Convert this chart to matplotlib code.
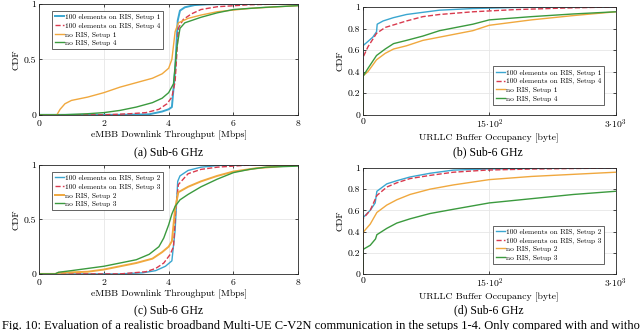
import numpy as np
import matplotlib
matplotlib.use("Agg")
import matplotlib.pyplot as plt

plt.rcParams['font.family'] = ['cmr10', 'DejaVu Serif']
plt.rcParams['mathtext.fontset'] = 'cm'
plt.rcParams['axes.formatter.use_mathtext'] = True

# colours (MATLAB-like)
C_BLUE = '#3aa6d0'
C_RED = '#d93a4e'
C_ORANGE = '#f0a83e'
C_GREEN = '#3b9a3e'

# ---------------- (a) eMBB throughput, setups 1 / 4 ----------------
a_ris1_x = [0, 2.5, 3.4, 3.8, 4.0, 4.1, 4.2, 4.28, 4.35, 4.5, 4.8, 5.2, 6.0, 8.0]
a_ris1_y = [0, 0, 0.005, 0.03, 0.05, 0.07, 0.4, 0.85, 0.94, 0.97, 0.99, 0.997, 1.0, 1.0]
a_ris4_x = [0, 2.0, 2.8, 3.3, 3.7, 3.95, 4.1, 4.2, 4.3, 4.45, 4.7, 5.0, 5.5, 6.5, 7.5, 8.0]
a_ris4_y = [0, 0, 0.01, 0.02, 0.05, 0.1, 0.16, 0.3, 0.78, 0.86, 0.91, 0.95, 0.975, 0.993, 1.0, 1.0]
a_no1_x = [0, 0.55, 0.65, 0.8, 1.0, 1.5, 2.0, 2.5, 3.0, 3.5, 3.8, 4.0, 4.1, 4.2, 4.3, 4.6, 5.0, 5.5, 6.5, 8.0]
a_no1_y = [0, 0, 0.05, 0.1, 0.13, 0.16, 0.2, 0.25, 0.29, 0.33, 0.37, 0.42, 0.5, 0.75, 0.83, 0.87, 0.9, 0.93, 0.96, 0.985]
a_no4_x = [0, 0.7, 1.5, 2.0, 2.5, 3.0, 3.5, 3.8, 4.0, 4.15, 4.25, 4.35, 4.5, 5.0, 5.5, 6.0, 7.0, 8.0]
a_no4_y = [0, 0, 0.01, 0.02, 0.04, 0.07, 0.11, 0.15, 0.2, 0.28, 0.6, 0.78, 0.83, 0.88, 0.92, 0.95, 0.97, 0.985]

# ---------------- (b) URLLC buffer, setups 1 / 4 ----------------
b_ris1_x = [0, 0, 30, 60, 118, 162, 170, 240, 360, 518, 712, 910, 1305, 1800, 2300, 3000]
b_ris1_y = [0, 0.64, 0.66, 0.68, 0.72, 0.77, 0.84, 0.87, 0.9, 0.93, 0.95, 0.97, 0.985, 0.995, 1.0, 1.0]
b_ris4_x = [0, 0, 60, 162, 265, 518, 712, 910, 1305, 1800, 2400, 3000]
b_ris4_y = [0, 0.53, 0.63, 0.755, 0.81, 0.87, 0.91, 0.93, 0.955, 0.975, 0.99, 1.0]
b_no1_x = [0, 0, 60, 162, 265, 364, 518, 712, 910, 1107, 1305, 1500, 2000, 2500, 3000]
b_no1_y = [0, 0.36, 0.4, 0.51, 0.57, 0.61, 0.64, 0.69, 0.72, 0.75, 0.78, 0.83, 0.88, 0.92, 0.955]
b_no4_x = [0, 0, 60, 162, 265, 364, 518, 712, 910, 1107, 1305, 1500, 2000, 2500, 3000]
b_no4_y = [0, 0.354, 0.43, 0.55, 0.61, 0.66, 0.69, 0.73, 0.78, 0.81, 0.84, 0.88, 0.91, 0.935, 0.955]

# ---------------- (c) eMBB throughput, setups 2 / 3 ----------------
c_ris2_x = [0, 2.5, 3.2, 3.6, 3.9, 4.1, 4.2, 4.28, 4.35, 4.6, 5.0, 5.5, 6.0, 8.0]
c_ris2_y = [0, 0, 0.01, 0.03, 0.07, 0.12, 0.4, 0.85, 0.9, 0.95, 0.98, 0.995, 1.0, 1.0]
c_ris3_x = [0, 2.5, 3.3, 3.6, 3.85, 4.05, 4.15, 4.22, 4.3, 4.6, 5.0, 5.5, 6.5, 8.0]
c_ris3_y = [0, 0, 0.02, 0.05, 0.1, 0.18, 0.25, 0.6, 0.82, 0.92, 0.96, 0.98, 1.0, 1.0]
c_no2_x = [0, 0.5, 0.6, 1.5, 2.0, 2.5, 3.0, 3.5, 3.8, 4.0, 4.1, 4.2, 4.3, 4.6, 5.0, 5.5, 6.0, 6.7, 7.5, 8.0]
c_no2_y = [0, 0, 0.01, 0.02, 0.04, 0.07, 0.1, 0.14, 0.2, 0.25, 0.3, 0.6, 0.75, 0.8, 0.85, 0.9, 0.94, 0.97, 0.99, 1.0]
c_no3_x = [0, 0.5, 0.6, 1.0, 1.5, 2.0, 2.5, 3.0, 3.4, 3.7, 3.85, 4.0, 4.1, 4.2, 4.35, 4.6, 5.0, 5.5, 6.0, 6.5, 7.0, 8.0]
c_no3_y = [0, 0, 0.015, 0.03, 0.05, 0.07, 0.1, 0.13, 0.18, 0.25, 0.33, 0.45, 0.55, 0.62, 0.68, 0.73, 0.8, 0.87, 0.93, 0.96, 0.98, 0.99]

# ---------------- (d) URLLC buffer, setups 2 / 3 ----------------
d_ris2_x = [0, 0, 87, 146, 166, 284, 403, 560, 797, 1074, 1468, 1900, 3000]
d_ris2_y = [0, 0.53, 0.6, 0.67, 0.78, 0.85, 0.88, 0.915, 0.95, 0.98, 0.99, 0.995, 1.0]
d_ris3_x = [0, 0, 87, 166, 284, 403, 560, 797, 1074, 1468, 2000, 3000]
d_ris3_y = [0, 0.52, 0.6, 0.74, 0.82, 0.86, 0.9, 0.93, 0.96, 0.98, 0.99, 1.0]
d_no2_x = [0, 0, 87, 166, 284, 403, 560, 797, 1074, 1500, 2000, 2500, 3000]
d_no2_y = [0, 0.39, 0.47, 0.58, 0.65, 0.7, 0.75, 0.8, 0.84, 0.89, 0.92, 0.94, 0.96]
d_no3_x = [0, 0, 87, 150, 166, 284, 403, 560, 797, 1074, 1500, 2000, 2500, 3000]
d_no3_y = [0, 0.23, 0.27, 0.33, 0.37, 0.43, 0.48, 0.52, 0.57, 0.61, 0.67, 0.71, 0.75, 0.78]

TICK_FS = 7
LEG_FS = 5.3
CAP_FS = 8.5


def style_ax(ax):
    ax.grid(True, color='#e6e6e6', linewidth=0.6)
    ax.set_axisbelow(True)
    for s in ax.spines.values():
        s.set_color('#262626')
        s.set_linewidth(0.6)
    ax.tick_params(direction='in', length=2.5, width=0.5, labelsize=TICK_FS,
                   top=True, right=True, pad=2)
    ax.set_ylabel('CDF', fontsize=TICK_FS, labelpad=2)


def embb_panel(ax, series, labels):
    for (x, y, c, ls, lw), lab in zip(series, labels):
        ax.plot(x, y, color=c, linestyle=ls, linewidth=lw, label=lab)
    ax.set_xlim(0, 8)
    ax.set_ylim(0, 1)
    ax.set_xticks([0, 2, 4, 6, 8])
    ax.set_yticks([0, 0.5, 1])
    ax.set_yticklabels(['0', '0.5', '1'])
    ax.set_xlabel('eMBB Downlink Throughput [Mbps]', fontsize=TICK_FS, labelpad=2)
    style_ax(ax)
    leg = ax.legend(loc='upper left', bbox_to_anchor=(0.035, 0.97), fontsize=LEG_FS,
                    handlelength=1.2, handletextpad=0.2, borderpad=0.4,
                    labelspacing=0.3, fancybox=False, framealpha=1)
    leg.get_frame().set_edgecolor('#262626')
    leg.get_frame().set_linewidth(0.5)


def urllc_panel(ax, series, labels):
    for (x, y, c, ls, lw), lab in zip(series, labels):
        ax.plot(x, y, color=c, linestyle=ls, linewidth=lw, label=lab)
    ax.set_xlim(0, 3000)
    ax.set_ylim(0, 1)
    ax.set_xticks([0, 1500, 3000])
    ax.set_xticklabels(['0', r'$15{\cdot}10^2$', r'$3{\cdot}10^3$'])
    ax.set_yticks([0, 0.2, 0.4, 0.6, 0.8, 1])
    ax.set_yticklabels(['0', '0.2', '0.4', '0.6', '0.8', '1'])
    ax.set_xlabel('URLLC Buffer Occupancy [byte]', fontsize=TICK_FS, labelpad=2)
    style_ax(ax)
    leg = ax.legend(loc='lower right', bbox_to_anchor=(0.97, 0.06), fontsize=LEG_FS,
                    handlelength=1.2, handletextpad=0.2, borderpad=0.4,
                    labelspacing=0.3, fancybox=False, framealpha=1)
    leg.get_frame().set_edgecolor('#262626')
    leg.get_frame().set_linewidth(0.5)


fig = plt.figure(figsize=(6.4, 3.3), dpi=100)

ax_a = fig.add_axes([0.061, 0.652, 0.405, 0.336])
ax_b = fig.add_axes([0.567, 0.652, 0.395, 0.327])
ax_c = fig.add_axes([0.061, 0.170, 0.405, 0.330])
ax_d = fig.add_axes([0.567, 0.170, 0.395, 0.321])

lab_14 = ['100 elements on RIS, Setup 1', '100 elements on RIS, Setup 4',
          'no RIS, Setup 1', 'no RIS, Setup 4']
lab_23 = ['100 elements on RIS, Setup 2', '100 elements on RIS, Setup 3',
          'no RIS, Setup 2', 'no RIS, Setup 3']

embb_panel(ax_a, [(a_ris1_x, a_ris1_y, C_BLUE, '-', 1.4),
                  (a_ris4_x, a_ris4_y, C_RED, '--', 1.0),
                  (a_no1_x, a_no1_y, C_ORANGE, '-', 1.0),
                  (a_no4_x, a_no4_y, C_GREEN, '-', 1.0)], lab_14)
urllc_panel(ax_b, [(b_ris1_x, b_ris1_y, C_BLUE, '-', 1.0),
                   (b_ris4_x, b_ris4_y, C_RED, '--', 1.0),
                   (b_no1_x, b_no1_y, C_ORANGE, '-', 1.0),
                   (b_no4_x, b_no4_y, C_GREEN, '-', 1.0)], lab_14)
embb_panel(ax_c, [(c_ris2_x, c_ris2_y, C_BLUE, '-', 1.0),
                  (c_ris3_x, c_ris3_y, C_RED, '--', 1.0),
                  (c_no2_x, c_no2_y, C_ORANGE, '-', 1.4),
                  (c_no3_x, c_no3_y, C_GREEN, '-', 1.0)], lab_23)
urllc_panel(ax_d, [(d_ris2_x, d_ris2_y, C_BLUE, '-', 1.0),
                   (d_ris3_x, d_ris3_y, C_RED, '--', 1.0),
                   (d_no2_x, d_no2_y, C_ORANGE, '-', 1.0),
                   (d_no3_x, d_no3_y, C_GREEN, '-', 1.0)], lab_23)

cap = dict(fontsize=CAP_FS, family='Liberation Serif', ha='center', va='center')
fig.text(0.263, 1 - 152 / 330, '(a) Sub-6 GHz', **cap)
fig.text(0.763, 1 - 152 / 330, '(b) Sub-6 GHz', **cap)
fig.text(0.263, 1 - 310 / 330, '(c) Sub-6 GHz', **cap)
fig.text(0.763, 1 - 310 / 330, '(d) Sub-6 GHz', **cap)

fig.text(0.003, 1 - 320 / 330,
         'Fig. 10: Evaluation of a realistic broadband Multi-UE C-V2N communication in the '
         'setups 1-4. Only compared with and without the inclusion of a RIS',
         fontsize=9, family='Liberation Serif', ha='left', va='top')

fig.savefig('out.png', dpi=100)
